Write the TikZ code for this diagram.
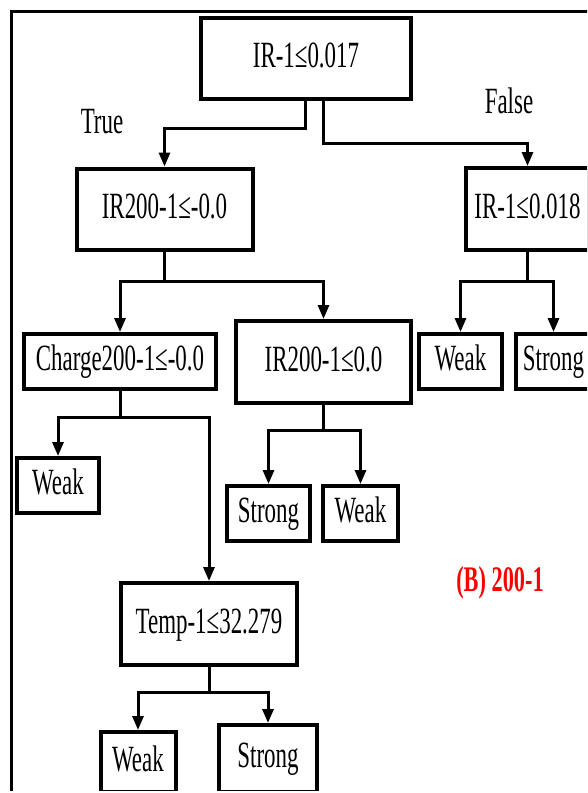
\documentclass[tikz,border=0pt]{standalone}
\usepackage{fontspec}
\setmainfont[FakeStretch=0.62]{Liberation Serif}
\usetikzlibrary{arrows.meta}
\begin{document}
\begin{tikzpicture}[x=1pt,y=-1pt,
  txt/.style={font=\fontsize{37}{44}\selectfont, inner sep=0pt},
  box/.style={txt, draw, line width=4pt, text height=26pt, text depth=8pt},
  conn/.style={line width=3pt, -{Triangle[length=14pt,width=11pt]}},
  frame/.style={line width=3pt}]
\useasboundingbox (0,0) rectangle (587,793);
\begin{scope}
\clip (0,0) rectangle (587,790);
\draw[frame] (11,800) -- (11,11) -- (600,11);
% nodes
\node[box, minimum width=210pt, minimum height=81pt] (root) at (306,58.5) {IR-1≤0.017};
\node[box, minimum width=176pt, minimum height=81pt] (A) at (164.5,209) {IR200-1≤-0.0};
\node[box, minimum width=123pt, minimum height=82pt] (B) at (527.5,209) {IR-1≤0.018};
\node[box, minimum width=192pt, minimum height=55pt] (Charge) at (120,361.5) {Charge200-1≤-0.0};
\node[box, minimum width=175pt, minimum height=82pt] (C) at (323.5,362) {IR200-1≤0.0};
\node[box, minimum width=83pt, minimum height=55pt] (W1) at (460.5,361.5) {Weak};
\node[box, minimum width=75pt, minimum height=55pt] (S1) at (553.5,361.5) {Strong};
\node[box, minimum width=82pt, minimum height=55pt] (W2) at (58,485.5) {Weak};
\node[box, minimum width=83pt, minimum height=55pt] (S2) at (268.5,513.5) {Strong};
\node[box, minimum width=75pt, minimum height=55pt] (W3) at (360.5,513.5) {Weak};
\node[box, minimum width=176pt, minimum height=82pt] (Temp) at (209,624) {Temp-1≤32.279};
\node[box, minimum width=75pt, minimum height=60pt] (W4) at (138,762) {Weak};
\node[box, minimum width=98pt, minimum height=67pt] (S4) at (268,758.5) {Strong};
% labels
\node[txt] (true) at (102,122) {True};
\node[txt] (false) at (509,101) {False};
\node[txt, font=\fontsize{36}{44}\selectfont\bfseries, text=red] (lbl) at (500,583) {(B) 200-1};
% connectors
\draw[conn] ([xshift=-1pt]root.south) -- ++(0,27) -| (A.north);
\draw[conn] ([xshift=17pt]root.south) -- ++(0,42) -| (B.north);
\draw[conn] (A.south) -- ++(0,30) -| (Charge.north);
\draw[conn] (A.south) -- ++(0,30) -| (C.north);
\draw[conn] (B.south) -- ++(0,29) -| (W1.north);
\draw[conn] (B.south) -- ++(0,29) -| (S1.north);
\draw[conn] (Charge.south) -- ++(0,26) -| (W2.north);
\draw[conn] (Charge.south) -- ++(0,26) -| (Temp.north);
\draw[conn] (C.south) -- ++(0,25) -| (S2.north);
\draw[conn] (C.south) -- ++(0,25) -| (W3.north);
\draw[conn] (Temp.south) -- ++(0,25) -| (W4.north);
\draw[conn] (Temp.south) -- ++(0,25) -| (S4.north);
\end{scope}
\end{tikzpicture}
\end{document}
